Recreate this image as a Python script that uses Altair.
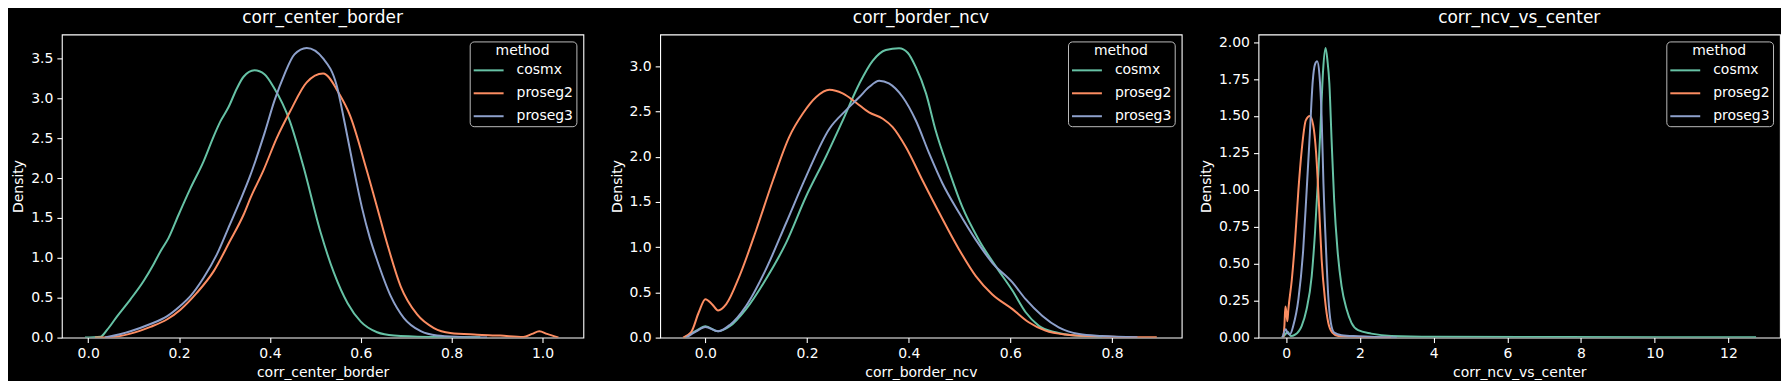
import altair as alt
import pandas as pd

methods = ["cosmx", "proseg2", "proseg3"]
colors = ["#66c2a5", "#fc8d62", "#8da0cb"]

# ---------- panel 1: corr_center_border ----------
p1_cosmx_x = [-0.007, 0.027, 0.042, 0.064, 0.093, 0.122, 0.144, 0.159, 0.177, 0.199, 0.225, 0.254, 0.276,
              0.291, 0.309, 0.327, 0.342, 0.366, 0.388, 0.408, 0.444, 0.473, 0.512, 0.541, 0.571, 0.600,
              0.636, 0.673, 0.746, 0.863]
p1_cosmx_y = [0.0, 0.01, 0.10, 0.27, 0.48, 0.71, 0.92, 1.08, 1.25, 1.54, 1.87, 2.21, 2.52,
              2.71, 2.89, 3.12, 3.27, 3.35, 3.30, 3.14, 2.71, 2.16, 1.31, 0.81, 0.43, 0.20,
              0.067, 0.025, 0.008, 0.003]
p1_proseg2_x = [0.015, 0.049, 0.093, 0.137, 0.174, 0.203, 0.239, 0.276, 0.312, 0.342, 0.358, 0.386, 0.415,
                0.444, 0.481, 0.517, 0.554, 0.576, 0.612, 0.640, 0.658, 0.688, 0.724, 0.761, 0.797, 0.856,
                0.907, 0.958, 0.977, 0.993, 1.010, 1.035]
p1_proseg2_y = [0.0, 0.005, 0.05, 0.135, 0.23, 0.35, 0.56, 0.83, 1.21, 1.54, 1.76, 2.10, 2.50,
                2.83, 3.20, 3.31, 3.04, 2.79, 2.12, 1.55, 1.18, 0.64, 0.29, 0.12, 0.058, 0.037,
                0.025, 0.008, 0.046, 0.079, 0.046, 0.0]
p1_proseg3_x = [0.037, 0.093, 0.137, 0.174, 0.203, 0.225, 0.254, 0.283, 0.312, 0.334, 0.356, 0.388, 0.410,
                0.432, 0.454, 0.481, 0.517, 0.547, 0.565, 0.583, 0.603, 0.620, 0.636, 0.666, 0.695, 0.732,
                0.768, 0.819, 0.878]
p1_proseg3_y = [0.0, 0.08, 0.17, 0.27, 0.40, 0.52, 0.75, 1.04, 1.42, 1.71, 2.02, 2.56, 2.97,
                3.30, 3.55, 3.63, 3.50, 3.16, 2.68, 2.16, 1.62, 1.25, 0.97, 0.52, 0.245, 0.08,
                0.025, 0.008, 0.0]

# ---------- panel 2: corr_border_ncv ----------
p2_cosmx_x = [-0.041, -0.018, 0.0, 0.025, 0.048, 0.080, 0.119, 0.159, 0.198, 0.237, 0.270, 0.303, 0.329,
              0.355, 0.381, 0.398, 0.414, 0.434, 0.453, 0.479, 0.505, 0.538, 0.571, 0.604, 0.630, 0.656,
              0.689, 0.728, 0.780]
p2_cosmx_y = [0.0, 0.077, 0.125, 0.07, 0.125, 0.315, 0.645, 1.05, 1.56, 2.0, 2.40, 2.81, 3.06,
              3.18, 3.20, 3.15, 2.99, 2.70, 2.29, 1.85, 1.45, 1.08, 0.79, 0.52, 0.28, 0.13,
              0.059, 0.022, 0.008]
p2_proseg2_x = [-0.044, -0.028, -0.013, 0.0, 0.013, 0.025, 0.041, 0.067, 0.100, 0.133, 0.165, 0.192, 0.218,
                0.244, 0.270, 0.296, 0.322, 0.349, 0.368, 0.394, 0.427, 0.460, 0.499, 0.532, 0.564, 0.604,
                0.636, 0.669, 0.708, 0.760, 0.888]
p2_proseg2_y = [0.0, 0.06, 0.28, 0.425, 0.37, 0.30, 0.37, 0.68, 1.19, 1.74, 2.22, 2.48, 2.66,
                2.74, 2.70, 2.60, 2.49, 2.42, 2.33, 2.11, 1.74, 1.38, 0.975, 0.68, 0.48, 0.315,
                0.17, 0.077, 0.033, 0.015, 0.003]
p2_proseg3_x = [-0.038, -0.018, 0.0, 0.025, 0.048, 0.080, 0.119, 0.159, 0.198, 0.244, 0.276, 0.303, 0.322,
                0.342, 0.361, 0.388, 0.414, 0.440, 0.466, 0.499, 0.532, 0.564, 0.604, 0.630, 0.663, 0.695,
                0.735, 0.780, 0.850]
p2_proseg3_y = [0.0, 0.07, 0.117, 0.07, 0.14, 0.35, 0.755, 1.27, 1.78, 2.31, 2.51, 2.66, 2.77,
                2.84, 2.81, 2.66, 2.40, 2.04, 1.71, 1.38, 1.08, 0.83, 0.61, 0.425, 0.24, 0.114,
                0.04, 0.018, 0.004]

# ---------- panel 3: corr_ncv_vs_center ----------
p3_cosmx_x = [-0.12, -0.03, 0.04, 0.12, 0.24, 0.42, 0.55, 0.69, 0.78, 0.87, 0.94, 1.00, 1.067,
              1.12, 1.17, 1.23, 1.30, 1.39, 1.50, 1.64, 1.77, 1.95, 2.31, 2.85, 4.0, 7.5, 12.75]
p3_cosmx_y = [0.0, 0.02, 0.04, 0.01, 0.02, 0.08, 0.19, 0.415, 0.71, 1.11, 1.49, 1.81, 1.96,
              1.87, 1.72, 1.34, 0.93, 0.595, 0.35, 0.19, 0.10, 0.05, 0.027, 0.011, 0.006, 0.004, 0.002]
p3_proseg2_x = [-0.08, -0.05, -0.024, 0.003, 0.03, 0.057, 0.15, 0.24, 0.33, 0.42, 0.53, 0.64, 0.73,
                0.81, 0.89, 0.96, 1.05, 1.14, 1.25, 1.41, 2.84]
p3_proseg2_y = [0.0, 0.08, 0.21, 0.17, 0.11, 0.19, 0.39, 0.66, 1.0, 1.27, 1.47, 1.50, 1.44,
                1.25, 0.89, 0.53, 0.26, 0.10, 0.034, 0.011, 0.0]
p3_proseg3_x = [-0.10, -0.015, 0.03, 0.10, 0.19, 0.33, 0.46, 0.55, 0.64, 0.72, 0.78, 0.84, 0.90,
                0.96, 1.01, 1.08, 1.14, 1.21, 1.30, 1.50, 1.95, 3.0]
p3_proseg3_y = [0.0, 0.056, 0.034, 0.022, 0.08, 0.26, 0.595, 0.98, 1.38, 1.74, 1.85, 1.87, 1.78,
                1.49, 1.04, 0.595, 0.28, 0.10, 0.034, 0.016, 0.009, 0.0]


def frame(xs_list, ys_list):
    rows = []
    for m, xs, ys in zip(methods, xs_list, ys_list):
        for i, (x, y) in enumerate(zip(xs, ys)):
            rows.append({"value": x, "density": y, "method": m, "order": i})
    return pd.DataFrame(rows)


def panel(df, title, xdom, ydom, xticks, yticks, xfmt, yfmt):
    return (
        alt.Chart(df, title=alt.TitleParams(title))
        .mark_line(strokeWidth=2, interpolate="monotone", clip=True)
        .encode(
            x=alt.X("value:Q", title=title,
                    scale=alt.Scale(domain=xdom, nice=False, zero=False),
                    axis=alt.Axis(values=xticks, format=xfmt)),
            y=alt.Y("density:Q", title="Density",
                    scale=alt.Scale(domain=ydom, nice=False, zero=False),
                    axis=alt.Axis(values=yticks, format=yfmt)),
            color=alt.Color("method:N",
                            scale=alt.Scale(domain=methods, range=colors),
                            legend=alt.Legend(title="method")),
            order="order:Q",
        )
        .properties(width=523, height=304)
    )


df1 = frame([p1_cosmx_x, p1_proseg2_x, p1_proseg3_x], [p1_cosmx_y, p1_proseg2_y, p1_proseg3_y])
df2 = frame([p2_cosmx_x, p2_proseg2_x, p2_proseg3_x], [p2_cosmx_y, p2_proseg2_y, p2_proseg3_y])
df3 = frame([p3_cosmx_x, p3_proseg2_x, p3_proseg3_x], [p3_cosmx_y, p3_proseg2_y, p3_proseg3_y])

c1 = panel(df1, "corr_center_border", [-0.058, 1.090], [0, 3.80],
           [0.0, 0.2, 0.4, 0.6, 0.8, 1.0], [0, 0.5, 1.0, 1.5, 2.0, 2.5, 3.0, 3.5], ".1f", ".1f")
c2 = panel(df2, "corr_border_ncv", [-0.089, 0.937], [0, 3.352],
           [0.0, 0.2, 0.4, 0.6, 0.8], [0, 0.5, 1.0, 1.5, 2.0, 2.5, 3.0], ".1f", ".1f")
c3 = panel(df3, "corr_ncv_vs_center", [-0.754, 13.40], [0, 2.052],
           [0, 2, 4, 6, 8, 10, 12], [0, 0.25, 0.5, 0.75, 1.0, 1.25, 1.5, 1.75, 2.0], "d", ".2f")

inner = (
    alt.hconcat(c1, c2, spacing=25)
    .resolve_scale(color="independent")
    .resolve_legend(color="independent")
)
chart = (
    alt.hconcat(inner, c3, spacing=16)
    .resolve_scale(color="independent")
    .resolve_legend(color="independent")
    .properties(padding={"left": 3, "top": 0, "right": 0, "bottom": 0})
    .configure(background="black", font="DejaVu Sans")
    .configure_view(stroke="white", strokeWidth=1.1)
    .configure_axis(domain=False, grid=False, tickColor="white", tickSize=5, tickWidth=1.1,
                    labelColor="white", titleColor="white", labelFontSize=14, titleFontSize=14,
                    titleFontWeight="normal", labelPadding=4, titlePadding=5, labelFont="DejaVu Sans",
                    titleFont="DejaVu Sans")
    .configure_title(color="white", fontSize=17, fontWeight="normal", anchor="middle", offset=7,
                     font="DejaVu Sans")
    .configure_legend(orient="top-right", offset=7, padding=3, strokeColor="#bbbbbb",
                      fillColor="rgba(0,0,0,0.8)", cornerRadius=4, titleColor="white",
                      labelColor="white", titleFontSize=14, labelFontSize=14, titleFontWeight="normal",
                      titleAnchor="middle", symbolType="stroke", symbolSize=900, symbolStrokeWidth=2,
                      labelOffset=12, rowPadding=-10, titlePadding=-4, labelFont="DejaVu Sans",
                      titleFont="DejaVu Sans")
)

chart.save("out.html", embed_options={"renderer": "svg", "actions": False})
